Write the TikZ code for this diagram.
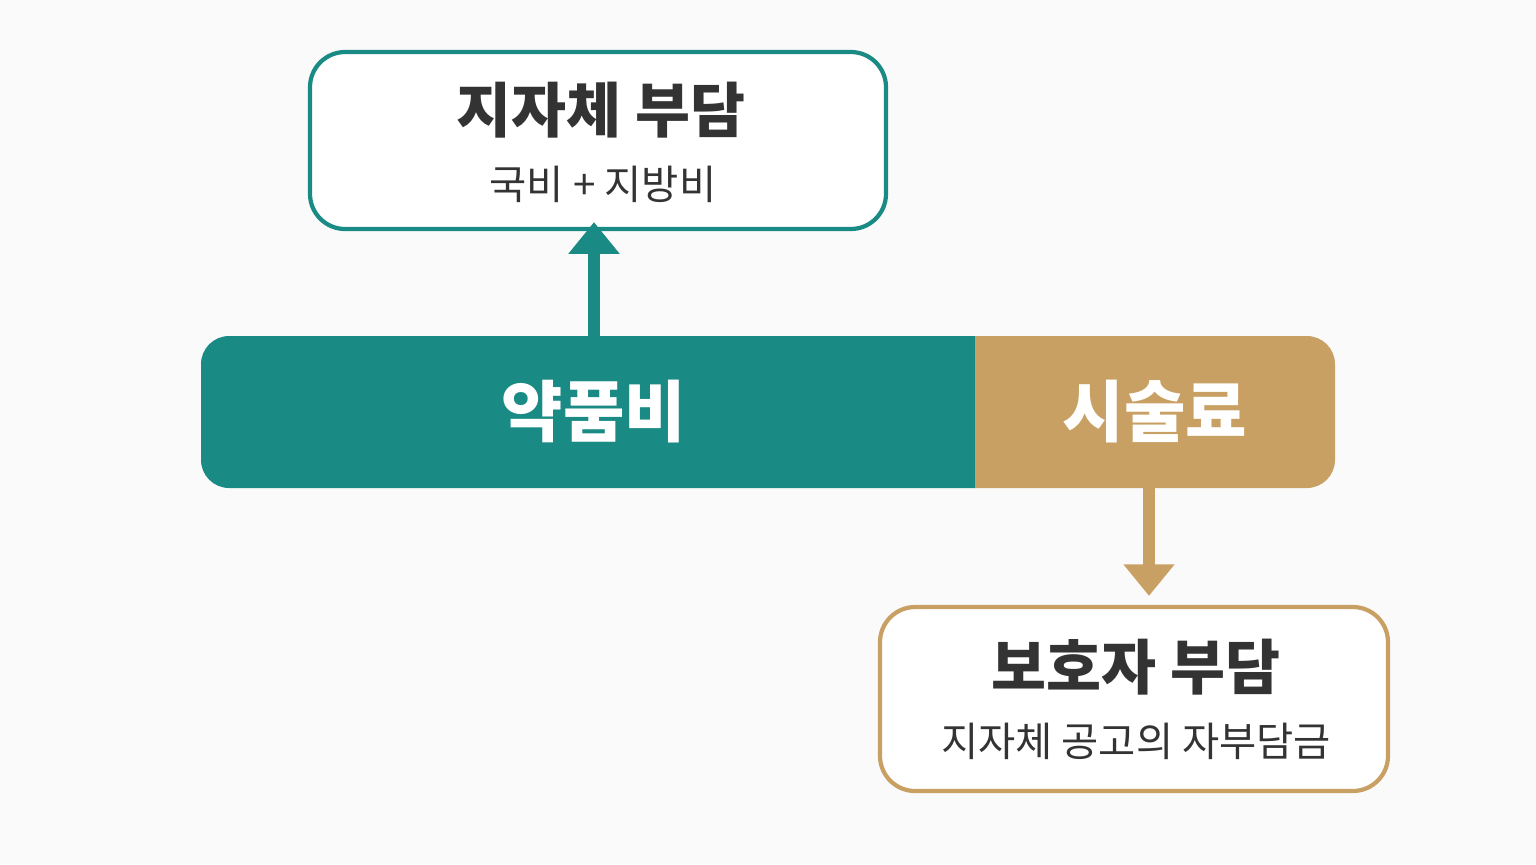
\documentclass[tikz,border=0pt]{standalone}
\usepackage{fontspec}
\setmainfont{Noto Sans CJK KR}
\usetikzlibrary{arrows.meta}
\definecolor{tealc}{HTML}{1A8A85}
\definecolor{tanc}{HTML}{C9A063}
\definecolor{ink}{HTML}{333333}
\begin{document}
\begin{tikzpicture}[x=0.1mm,y=-0.1mm]
      \tikzstyle{boite}=[draw,line width=1.2pt,rounded corners=10pt,fill=white,inner sep=0pt]
      \tikzstyle{titre}=[font=\fontsize{17pt}{20pt}\selectfont\bfseries,text=ink]
      \tikzstyle{soustitre}=[font=\fontsize{11.5pt}{14pt}\selectfont,text=ink]
      \tikzstyle{barre}=[font=\fontsize{19pt}{22pt}\selectfont\bfseries,text=white]
      \tikzstyle{fleche}=[line width=3.2pt,-{Triangle[length=9pt,width=14pt]}]
      \fill[fill=black!2] (0,0) rectangle (1536,864);
      \useasboundingbox (0,0) rectangle (1536,864);
      % bar
      \fill[tealc,rounded corners=8pt] (975,336) [sharp corners] -- (975,336) [rounded corners=8pt] -- (201,336) -- (201,488) [sharp corners] -- (975,488) -- cycle;
      \fill[tanc,rounded corners=8pt] (975,488) [sharp corners] -- (975,488) [rounded corners=8pt] -- (1335,488) -- (1335,336) [sharp corners] -- (975,336) -- cycle;
      \node[barre] (drug) at (594,412) {약품비};
      \node[barre] (fee) at (1155,412) {시술료};
      \coordinate (drugtop) at (594,336);
      \coordinate (feebot) at (1149,488);
      % boxes
      \node[boite,draw=tealc,minimum width=576*0.1mm,minimum height=177*0.1mm] (gov) at (598,140.5) {};
      \node[titre] (govt) at (601,110) {지자체 부담};
      \node[soustitre] (govs) at (603,184) {국비 + 지방비};
      \node[boite,draw=tanc,minimum width=508*0.1mm,minimum height=184*0.1mm] (owner) at (1134,699) {};
      \node[titre] (ownert) at (1136,667) {보호자 부담};
      \node[soustitre] (owners) at (1136,741) {지자체 공고의 자부담금};
      \draw[fleche,tealc] (drugtop) -- ([yshift=0.9mm]gov.south -| drugtop);
      \draw[fleche,tanc] (feebot) -- ([yshift=0.9mm]owner.north -| feebot);
\end{tikzpicture}
\end{document}
